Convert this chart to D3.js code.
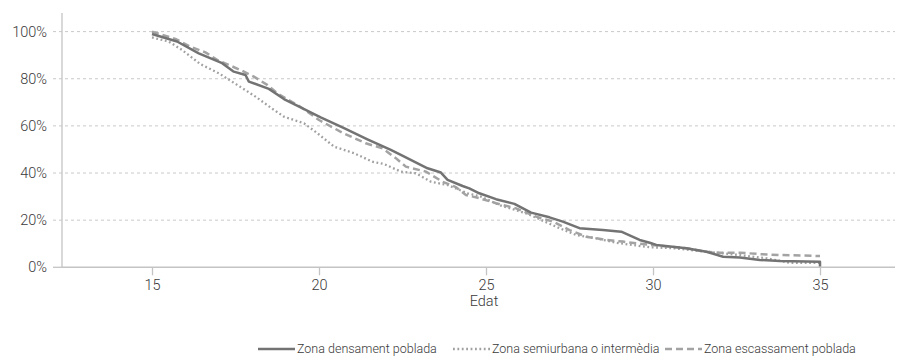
<!DOCTYPE html>
<html><head><meta charset="utf-8">
<script src="https://cdn.jsdelivr.net/npm/d3@7"></script>
<style>body{margin:0;background:#fff}svg text{font-family:Roboto,"Liberation Sans",sans-serif;font-weight:300}</style>
</head><body><svg id="c" width="901" height="362"></svg>
<script>
const seriesNames = ["Zona densament poblada","Zona semiurbana o intermèdia","Zona escassament poblada"];
const densAges = [15,15.75,16.4,17.1,17.45,17.8,17.9,18.5,18.95,19.45,20.05,20.75,21.45,22.15,22.45,22.85,23.25,23.65,23.85,24.3,24.5,24.8,25.3,25.85,26.35,26.9,27.3,27.8,28.5,29.05,29.6,29.9,30.1,31.0,31.6,32.1,32.6,33.2,33.8,35,35];
const densVals = [99,95.8,90.8,86.6,83.0,81.6,78.8,75.7,71.4,67.9,63.6,59.0,54.3,49.8,47.7,44.8,42.0,40.2,37.1,34.5,33.5,31.4,28.9,26.9,23.2,21.2,19.4,16.6,15.8,15.1,11.6,10.4,9.5,8.1,6.6,4.5,4.2,3.1,2.7,2.4,0.3];
const semiAges = [15,15.5,15.9,16.45,17.0,17.55,18.1,18.65,18.95,19.55,19.95,20.45,21.05,21.6,21.95,22.45,22.9,23.35,23.85,24.45,24.85,25.4,26.2,26.65,27.1,27.7,28.3,28.9,29.9,30.6,31.6,32.6,33.4,34.1,35];
const semiVals = [97.5,95.8,92.2,86.2,82.3,77.4,72.4,66.8,63.9,61.1,56.9,51.2,48.4,44.8,43.8,40.6,39.9,36.3,34.9,31.4,30.0,26.4,22.9,20.1,17.2,13.7,12.3,10.4,8.5,8.1,6.6,5.2,3.8,1.9,1.9];
const escAges = [15,15.7,16.15,16.6,16.95,17.65,18.05,18.45,18.75,19.45,20.0,20.7,21.4,21.9,22.3,22.6,23.2,23.7,24.1,24.4,24.8,25.3,25.9,26.5,27.0,27.5,28.0,28.6,29.1,29.9,30.5,31.0,31.6,32.0,32.6,33.2,33.8,35];
const escVals = [100,96.9,93.6,91.2,88,83.7,80.9,77.4,73.8,68,62.5,57.1,52.6,50.5,46.3,42.7,40.6,36.3,34.0,30.7,29.3,27.2,25.0,21.5,19.4,15.8,13.0,11.6,10.9,9.5,8.8,8.1,6.6,6.2,6.2,5.6,5.2,4.8];
const xTicks = [15,20,25,30,35];
const yTicks = [0,20,40,60,80,100];
const xTitle = "Edat";

const svg = d3.select("#c");
const pLeft = 62, pRight = 895, pTop = 13, pBottom = 267.3;
const x = d3.scaleLinear().domain([15,35]).range([152,820]);
const y = d3.scaleLinear().domain([0,100]).range([pBottom,31.6]);
const txt = "#3a3a3a";

// gridlines
svg.append("g").selectAll("line").data(yTicks.filter(d=>d>0)).join("line")
  .attr("x1",53).attr("x2",pRight).attr("y1",d=>y(d)).attr("y2",d=>y(d))
  .attr("stroke","#c9c9c9").attr("stroke-width",1).attr("stroke-dasharray","3,3");
// y tick labels
svg.append("g").selectAll("text").data(yTicks).join("text")
  .attr("x",47).attr("y",d=>y(d)).attr("dy","0.35em").attr("text-anchor","end")
  .attr("font-size",14.5).attr("fill",txt).text(d=>d+"%");
// y axis line
svg.append("line").attr("x1",pLeft).attr("x2",pLeft).attr("y1",pTop).attr("y2",pBottom)
  .attr("stroke","#c4c4c4").attr("stroke-width",1.3);
svg.append("line").attr("x1",53).attr("x2",pLeft).attr("y1",pBottom).attr("y2",pBottom)
  .attr("stroke","#c4c4c4").attr("stroke-width",1.3);
// x axis
const xa = svg.append("g").attr("transform",`translate(0,${pBottom})`)
  .call(d3.axisBottom(x).tickValues(xTicks).tickSize(8).tickSizeOuter(0).tickPadding(4));
xa.select(".domain").remove();
xa.selectAll(".tick line").attr("stroke","#c4c4c4").attr("stroke-width",1.3);
xa.selectAll(".tick text").attr("font-size",14.5).attr("fill",txt)
  .style("font-family","Roboto, 'Liberation Sans', sans-serif").style("font-weight",300);
svg.append("line").attr("x1",pLeft).attr("x2",pRight).attr("y1",pBottom).attr("y2",pBottom)
  .attr("stroke","#c4c4c4").attr("stroke-width",1.5);
svg.append("text").attr("x",484).attr("y",306).attr("text-anchor","middle")
  .attr("font-size",14.5).attr("fill",txt).text(xTitle);

const line = d3.line().x(d=>x(d[0])).y(d=>y(d[1]));
const styles = [
  {stroke:"#737373",width:2.5,dash:null},
  {stroke:"#a0a0a0",width:2.3,dash:"1.8,2.6"},
  {stroke:"#a3a3a3",width:2.5,dash:"7,4"}
];
const data = [d3.zip(densAges,densVals), d3.zip(semiAges,semiVals), d3.zip(escAges,escVals)];
const order = [2,1,0];
order.forEach(i=>{
  svg.append("path").datum(data[i]).attr("d",line).attr("fill","none")
    .attr("stroke",styles[i].stroke).attr("stroke-width",styles[i].width)
    .attr("stroke-dasharray",styles[i].dash).attr("stroke-linejoin","round");
});

// legend
const legX = [258,453,665];
seriesNames.forEach((n,i)=>{
  svg.append("line").attr("x1",legX[i]).attr("x2",legX[i]+37).attr("y1",349).attr("y2",349)
    .attr("stroke",styles[i].stroke).attr("stroke-width",styles[i].width).attr("stroke-dasharray",styles[i].dash);
  svg.append("text").attr("x",legX[i]+39).attr("y",349).attr("dy","0.35em")
    .attr("font-size",12.5).attr("fill",txt).text(n);
});
</script></body></html>
